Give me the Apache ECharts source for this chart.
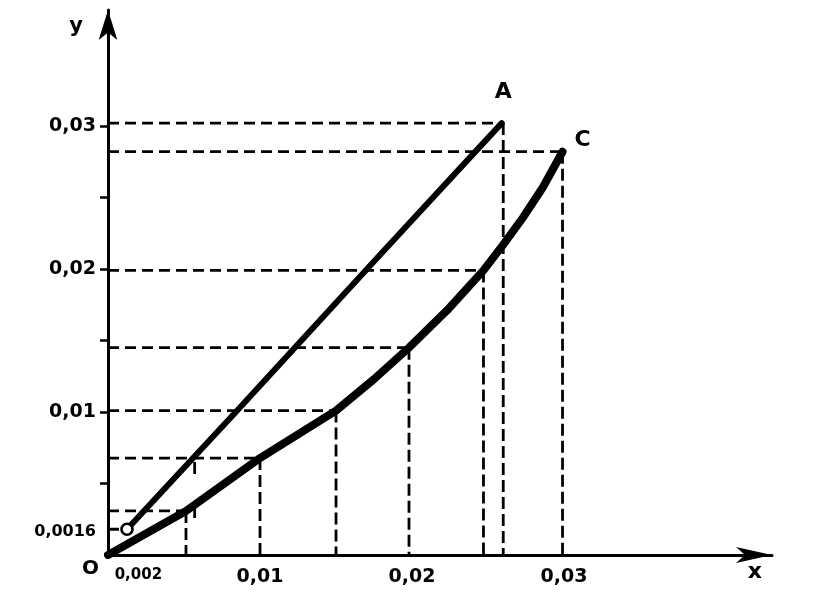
<!DOCTYPE html>
<html>
<head>
<meta charset="utf-8">
<script src="https://cdn.jsdelivr.net/npm/echarts@6/dist/echarts.min.js"></script>
<style>html,body{margin:0;padding:0;background:#fff}#c{width:818px;height:600px}</style>
</head>
<body>
<div id="c"></div>
<script>
// Curve O–C (x, y)
const curveOC = [[0,0],[0.00513,0.00308],[0.0100,0.00678],[0.0150,0.0101],[0.0175,0.0123],[0.0198,0.0145],[0.0223,0.0171],[0.0247,0.0199],[0.0260,0.0217],[0.0273,0.0236],[0.0286,0.0257],[0.0299,0.0282]];
// Straight line O–A (starts at the small circle)
const lineOA = [[0.00125,0.0018],[0.0085,0.0101],[0.0179,0.0210],[0.0259,0.0302]];
// Horizontal guides: from y axis to (x, y)
const hGuideX = [0.0259, 0.0299, 0.0247, 0.0198, 0.0150, 0.0100, 0.00513, 0.00125];
const hGuideY = [0.0302, 0.0282, 0.0199, 0.0145, 0.0101, 0.00678, 0.00308, 0.0018];
// Vertical guides: from (x, y) down to x axis
const vGuideX = [0.00513, 0.0100, 0.0150, 0.0198, 0.0247, 0.0260, 0.0299];
const vGuideY = [0.00308, 0.00678, 0.0101, 0.0145, 0.0199, 0.0302, 0.0282];
// Short partial guide under line OA
const partialGuide = [[0.0057, 0.0065], [0.0057, 0.0021]];
// Tick labels
const xTickLabels = [0.002, 0.01, 0.02, 0.03];
const yTickLabels = [0.0016, 0.01, 0.02, 0.03];
const yTicks = [0.005, 0.01, 0.015, 0.02, 0.025, 0.03];
// Point names
const pointNames = ['A', 'C', 'O'];
const pointValues = [[0.0259, 0.0302], [0.0299, 0.0282], [0, 0]];

const FONT = 'DejaVu Sans';
const fmt = v => String(v).replace('.', ',');
const fmtX = v => (v < 0.005 ? '{s|' : '{b|') + fmt(v) + '}';
const fmtY = v => (v < 0.005 ? '{m|' : '{b|') + fmt(v) + '}';

const series = [];
const dashH = {color:'#000', width:2.8, type:[11,6]};
hGuideX.forEach((x, i) => {
  series.push({type:'line', silent:true, symbol:'none', z:1, lineStyle:dashH,
    data:[[0, hGuideY[i]], [x, hGuideY[i]]]});
});
vGuideX.forEach((x, i) => {
  series.push({type:'line', silent:true, symbol:'none', z:1, lineStyle:{color:'#000', width:2.8, type:[12,5]},
    data:[[x, vGuideY[i]], [x, 0]]});
});
series.push({type:'line', silent:true, symbol:'none', z:1,
  lineStyle:{color:'#000', width:2.8, type:[12,32]}, data: partialGuide});
series.push({type:'line', symbol:'none', z:3, smooth:false,
  lineStyle:{color:'#000', width:8, cap:'round', join:'round'}, data: curveOC});
series.push({type:'line', symbol:'none', z:3,
  lineStyle:{color:'#000', width:6, cap:'round'}, data: lineOA});
series.push({type:'scatter', z:5, symbol:'circle', symbolSize:11,
  itemStyle:{color:'#fff', borderColor:'#000', borderWidth:2.6, opacity:1},
  data:[lineOA[0]]});
series.push({type:'scatter', z:5, symbolSize:0, itemStyle:{opacity:1},
  data: pointNames.map((n, i) => ({name:n, value:pointValues[i],
    label:{show:true, formatter:n, color:'#000', opacity:1, fontFamily:FONT, fontWeight:'bold', fontSize: n==='O'?20:22,
      position: n==='A' ? [-7,-42] : (n==='C' ? [12,-22] : [-26, 4])}}))
});

const rich = {
  b:{color:'#000', fontFamily:FONT, fontWeight:'bold', fontSize:19},
  m:{color:'#000', fontFamily:FONT, fontWeight:'bold', fontSize:16},
  s:{color:'#000', fontFamily:FONT, fontWeight:'bold', fontSize:15}
};

const chart = echarts.init(document.getElementById('c'), null, {renderer:'canvas'});
chart.setOption({
  animation:false,
  backgroundColor:'#fff',
  grid:{left:108, right:46, top:10, bottom:45, containLabel:false},
  xAxis:{type:'value', min:0, max:0.04368,
    name:'x', nameLocation:'end', nameGap:0,
    nameTextStyle:{color:'#000', fontFamily:FONT, fontWeight:'bold', fontSize:22, align:'right', verticalAlign:'top', padding:[6,10,0,0]},
    axisLine:{show:true, onZero:false, symbol:['none','arrow'], symbolSize:[12,36], lineStyle:{color:'#000', width:3}},
    axisTick:{show:false},
    splitLine:{show:false},
    axisLabel:{show:true, customValues:xTickLabels, formatter:fmtX, rich:rich, margin:13}
  },
  yAxis:{type:'value', min:0, max:0.03811,
    name:'y', nameLocation:'end', nameGap:0,
    nameTextStyle:{color:'#000', fontFamily:FONT, fontWeight:'bold', fontSize:21, align:'right', verticalAlign:'top', padding:[6,25,0,0]},
    axisLine:{show:true, onZero:false, symbol:['none','arrow'], symbolSize:[14,30], lineStyle:{color:'#000', width:3}},
    axisTick:{show:true, customValues:yTicks, length:8, lineStyle:{color:'#000', width:2.5}},
    splitLine:{show:false},
    axisLabel:{show:true, customValues:yTickLabels, formatter:fmtY, rich:rich, margin:12}
  },
  series: series
});
</script>
</body>
</html>
